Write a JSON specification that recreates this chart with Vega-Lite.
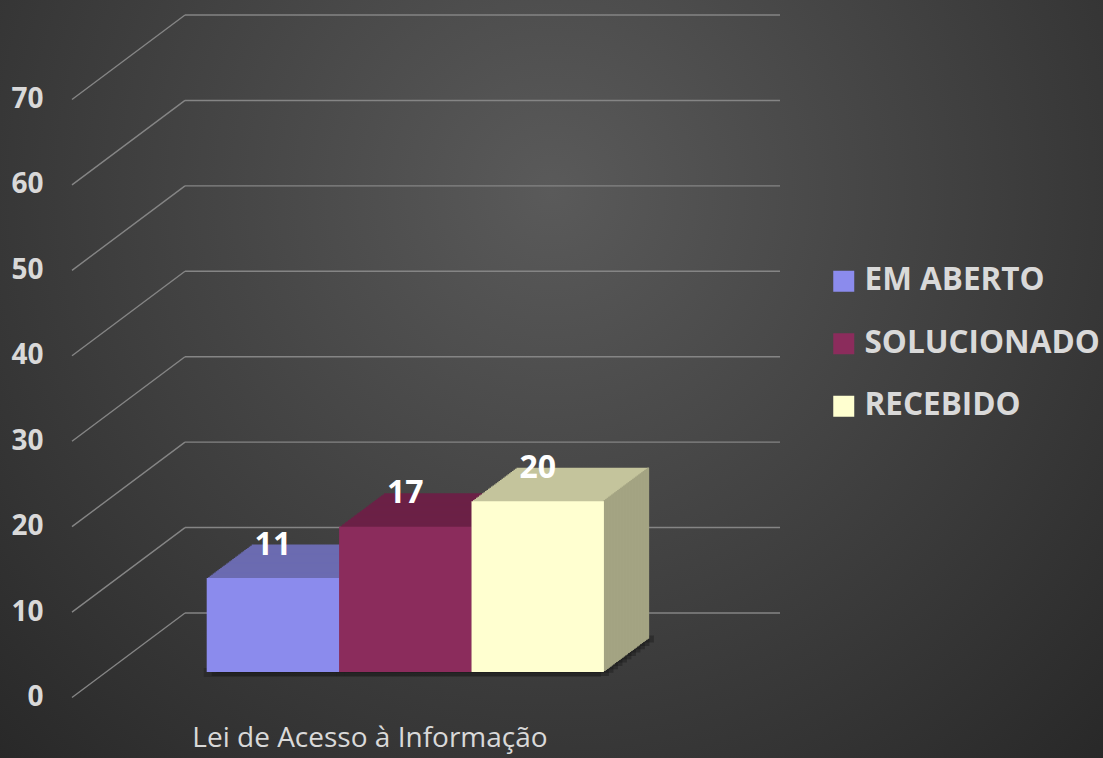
{
  "$schema": "https://vega.github.io/schema/vega-lite/v6.json",
  "width": 595,
  "height": 598,
  "autosize": {"type": "none"},
  "padding": {"left": 72, "top": 99.5, "right": 436, "bottom": 60.5},
  "background": "#3a3a3a",
  "config": {
    "view": {"stroke": null},
    "font": "Open Sans",
    "axis": {"zindex": 2},
    "legend": {"zindex": 2},
    "axisY": {"domain": false, "ticks": false, "grid": false, "labelFontSize": 28, "labelFontWeight": "bold", "labelColor": "#d9d9d9", "labelPadding": 29, "labelFont": "Open Sans", "zindex": 2}
  },
  "datasets": {
    "bars": [
      {"serie": "EM ABERTO", "v": 11},
      {"serie": "SOLUCIONADO", "v": 17},
      {"serie": "RECEBIDO", "v": 20}
    ],
    "grid": [{"v": 0}, {"v": 10}, {"v": 20}, {"v": 30}, {"v": 40}, {"v": 50}, {"v": 60}, {"v": 70}],
    "one": [{"k": 1}]
  },
  "layer": [
    {
      "layer": [
        {
          "data": {"name": "one"},
          "mark": {"type": "rect", "xOffset": -72, "x2Offset": 436, "yOffset": 60.5, "y2Offset": -99.5,
            "fill": {"gradient": "radial", "x1": 0.5, "y1": 0.33, "r1": 0, "x2": 0.5, "y2": 0.33, "r2": 0.75,
              "stops": [{"offset": 0, "color": "#5a5a5a"}, {"offset": 1, "color": "#262626"}]}},
          "encoding": {
            "x": {"datum": 0, "type": "quantitative", "scale": {"domain": [0, 1]}, "axis": null},
            "x2": {"datum": 1},
            "y": {"datum": 0, "type": "quantitative", "scale": {"domain": [0, 70], "nice": false}, "axis": {"title": null, "values": [0, 10, 20, 30, 40, 50, 60, 70], "zindex": 2}},
            "y2": {"datum": 70}
          }
        },
        {
          "data": {"name": "grid"},
          "mark": {"type": "rule", "xOffset": 113, "x2Offset": 113, "yOffset": -84.5, "color": "#858585", "strokeWidth": 1.4},
          "encoding": {
            "x": {"datum": 0, "type": "quantitative", "scale": {"domain": [0, 1]}, "axis": null},
            "x2": {"datum": 1},
            "y": {"field": "v", "type": "quantitative", "scale": {"domain": [0, 70], "nice": false}, "axis": {"title": null, "values": [0, 10, 20, 30, 40, 50, 60, 70], "zindex": 2}}
          }
        },
        {
          "data": {"name": "grid"},
          "mark": {"type": "rule", "x2Offset": 113, "y2Offset": -84.5, "color": "#858585", "strokeWidth": 1.4},
          "encoding": {
            "x": {"datum": 0, "type": "quantitative", "scale": {"domain": [0, 1]}, "axis": null},
            "x2": {"datum": 0},
            "y": {"field": "v", "type": "quantitative", "scale": {"domain": [0, 70], "nice": false}, "axis": {"title": null, "values": [0, 10, 20, 30, 40, 50, 60, 70], "zindex": 2}},
            "y2": {"field": "v"}
          }
        }
      ]
    },
    {
      "data": {"name": "bars"},
      "encoding": {
        "x": {"field": "serie", "type": "nominal", "sort": ["EM ABERTO", "SOLUCIONADO", "RECEBIDO"],
          "scale": {"type": "band", "paddingInner": 0, "paddingOuter": 0.747},
          "axis": {"title": "Lei de Acesso à Informação", "labels": false, "ticks": false, "domain": false, "titleFontSize": 28, "titleFontWeight": "normal", "titleColor": "#d9d9d9", "titlePadding": 27, "titleFont": "Open Sans", "zindex": 2}},
        "y": {"field": "v", "type": "quantitative", "scale": {"domain": [0, 70], "nice": false}, "axis": {"title": null, "values": [0, 10, 20, 30, 40, 50, 60, 70], "zindex": 2}}
      },
      "layer": [
        {
          "encoding": {"y": {"datum": 0, "type": "quantitative"}, "y2": {"datum": 0}},
          "layer": [
            {"mark": {"type": "bar", "color": "#111111", "opacity": 0.35, "xOffset": 85.8, "yOffset": -62, "y2Offset": -55}},
            {"mark": {"type": "bar", "color": "#111111", "opacity": 0.35, "xOffset": 81.3, "yOffset": -58.6, "y2Offset": -51.6}},
            {"mark": {"type": "bar", "color": "#111111", "opacity": 0.35, "xOffset": 76.8, "yOffset": -55.3, "y2Offset": -48.3}},
            {"mark": {"type": "bar", "color": "#111111", "opacity": 0.35, "xOffset": 72.3, "yOffset": -51.9, "y2Offset": -44.9}},
            {"mark": {"type": "bar", "color": "#111111", "opacity": 0.35, "xOffset": 67.8, "yOffset": -48.6, "y2Offset": -41.6}},
            {"mark": {"type": "bar", "color": "#111111", "opacity": 0.35, "xOffset": 63.3, "yOffset": -45.2, "y2Offset": -38.2}},
            {"mark": {"type": "bar", "color": "#111111", "opacity": 0.35, "xOffset": 58.8, "yOffset": -41.9, "y2Offset": -34.9}},
            {"mark": {"type": "bar", "color": "#111111", "opacity": 0.35, "xOffset": 54.3, "yOffset": -38.5, "y2Offset": -31.5}},
            {"mark": {"type": "bar", "color": "#111111", "opacity": 0.35, "xOffset": 49.8, "yOffset": -35.2, "y2Offset": -28.2}},
            {"mark": {"type": "bar", "color": "#111111", "opacity": 0.35, "xOffset": 45.3, "yOffset": -31.8, "y2Offset": -24.8}},
            {"mark": {"type": "bar", "color": "#111111", "opacity": 0.35, "xOffset": 40.8, "yOffset": -28.5, "y2Offset": -21.5}},
            {"mark": {"type": "bar", "color": "#111111", "opacity": 0.25, "xOffset": 32.8, "yOffset": -29.5, "y2Offset": -20.5}}
          ]
        },
        {
          "encoding": {"fill": {"field": "serie", "type": "nominal", "scale": {"domain": ["RECEBIDO", "SOLUCIONADO", "EM ABERTO"], "range": ["#c4c49c", "#6b2046", "#6b6bb1"]}, "legend": null}},
          "layer": [
            {"mark": {"type": "bar", "xOffset": 80.8, "yOffset": -59.0, "y2Offset": -59.0}},
            {"mark": {"type": "bar", "xOffset": 79.3, "yOffset": -57.88, "y2Offset": -57.88}},
            {"mark": {"type": "bar", "xOffset": 77.8, "yOffset": -56.77, "y2Offset": -56.77}},
            {"mark": {"type": "bar", "xOffset": 76.3, "yOffset": -55.65, "y2Offset": -55.65}},
            {"mark": {"type": "bar", "xOffset": 74.8, "yOffset": -54.53, "y2Offset": -54.53}},
            {"mark": {"type": "bar", "xOffset": 73.3, "yOffset": -53.42, "y2Offset": -53.42}},
            {"mark": {"type": "bar", "xOffset": 71.8, "yOffset": -52.3, "y2Offset": -52.3}},
            {"mark": {"type": "bar", "xOffset": 70.3, "yOffset": -51.18, "y2Offset": -51.18}},
            {"mark": {"type": "bar", "xOffset": 68.8, "yOffset": -50.07, "y2Offset": -50.07}},
            {"mark": {"type": "bar", "xOffset": 67.3, "yOffset": -48.95, "y2Offset": -48.95}},
            {"mark": {"type": "bar", "xOffset": 65.8, "yOffset": -47.83, "y2Offset": -47.83}},
            {"mark": {"type": "bar", "xOffset": 64.3, "yOffset": -46.72, "y2Offset": -46.72}},
            {"mark": {"type": "bar", "xOffset": 62.8, "yOffset": -45.6, "y2Offset": -45.6}},
            {"mark": {"type": "bar", "xOffset": 61.3, "yOffset": -44.48, "y2Offset": -44.48}},
            {"mark": {"type": "bar", "xOffset": 59.8, "yOffset": -43.37, "y2Offset": -43.37}},
            {"mark": {"type": "bar", "xOffset": 58.3, "yOffset": -42.25, "y2Offset": -42.25}},
            {"mark": {"type": "bar", "xOffset": 56.8, "yOffset": -41.13, "y2Offset": -41.13}},
            {"mark": {"type": "bar", "xOffset": 55.3, "yOffset": -40.02, "y2Offset": -40.02}},
            {"mark": {"type": "bar", "xOffset": 53.8, "yOffset": -38.9, "y2Offset": -38.9}},
            {"mark": {"type": "bar", "xOffset": 52.3, "yOffset": -37.78, "y2Offset": -37.78}},
            {"mark": {"type": "bar", "xOffset": 50.8, "yOffset": -36.67, "y2Offset": -36.67}},
            {"mark": {"type": "bar", "xOffset": 49.3, "yOffset": -35.55, "y2Offset": -35.55}},
            {"mark": {"type": "bar", "xOffset": 47.8, "yOffset": -34.43, "y2Offset": -34.43}},
            {"mark": {"type": "bar", "xOffset": 46.3, "yOffset": -33.32, "y2Offset": -33.32}},
            {"mark": {"type": "bar", "xOffset": 44.8, "yOffset": -32.2, "y2Offset": -32.2}},
            {"mark": {"type": "bar", "xOffset": 43.3, "yOffset": -31.08, "y2Offset": -31.08}},
            {"mark": {"type": "bar", "xOffset": 41.8, "yOffset": -29.97, "y2Offset": -29.97}},
            {"mark": {"type": "bar", "xOffset": 40.3, "yOffset": -28.85, "y2Offset": -28.85}},
            {"mark": {"type": "bar", "xOffset": 38.8, "yOffset": -27.73, "y2Offset": -27.73}},
            {"mark": {"type": "bar", "xOffset": 37.3, "yOffset": -26.62, "y2Offset": -26.62}}
          ]
        },
        {
          "transform": [{"filter": "datum.serie === 'RECEBIDO'"}],
          "layer": [
            {"mark": {"type": "bar", "width": 2, "xOffset": 146.25, "yOffset": -59.0, "y2Offset": -59.0, "color": "#a3a382"}},
            {"mark": {"type": "bar", "width": 2, "xOffset": 144.75, "yOffset": -57.88, "y2Offset": -57.88, "color": "#a3a382"}},
            {"mark": {"type": "bar", "width": 2, "xOffset": 143.25, "yOffset": -56.77, "y2Offset": -56.77, "color": "#a3a382"}},
            {"mark": {"type": "bar", "width": 2, "xOffset": 141.75, "yOffset": -55.65, "y2Offset": -55.65, "color": "#a3a382"}},
            {"mark": {"type": "bar", "width": 2, "xOffset": 140.25, "yOffset": -54.53, "y2Offset": -54.53, "color": "#a3a382"}},
            {"mark": {"type": "bar", "width": 2, "xOffset": 138.75, "yOffset": -53.42, "y2Offset": -53.42, "color": "#a3a382"}},
            {"mark": {"type": "bar", "width": 2, "xOffset": 137.25, "yOffset": -52.3, "y2Offset": -52.3, "color": "#a3a382"}},
            {"mark": {"type": "bar", "width": 2, "xOffset": 135.75, "yOffset": -51.18, "y2Offset": -51.18, "color": "#a3a382"}},
            {"mark": {"type": "bar", "width": 2, "xOffset": 134.25, "yOffset": -50.07, "y2Offset": -50.07, "color": "#a3a382"}},
            {"mark": {"type": "bar", "width": 2, "xOffset": 132.75, "yOffset": -48.95, "y2Offset": -48.95, "color": "#a3a382"}},
            {"mark": {"type": "bar", "width": 2, "xOffset": 131.25, "yOffset": -47.83, "y2Offset": -47.83, "color": "#a3a382"}},
            {"mark": {"type": "bar", "width": 2, "xOffset": 129.75, "yOffset": -46.72, "y2Offset": -46.72, "color": "#a3a382"}},
            {"mark": {"type": "bar", "width": 2, "xOffset": 128.25, "yOffset": -45.6, "y2Offset": -45.6, "color": "#a3a382"}},
            {"mark": {"type": "bar", "width": 2, "xOffset": 126.75, "yOffset": -44.48, "y2Offset": -44.48, "color": "#a3a382"}},
            {"mark": {"type": "bar", "width": 2, "xOffset": 125.25, "yOffset": -43.37, "y2Offset": -43.37, "color": "#a3a382"}},
            {"mark": {"type": "bar", "width": 2, "xOffset": 123.75, "yOffset": -42.25, "y2Offset": -42.25, "color": "#a3a382"}},
            {"mark": {"type": "bar", "width": 2, "xOffset": 122.25, "yOffset": -41.13, "y2Offset": -41.13, "color": "#a3a382"}},
            {"mark": {"type": "bar", "width": 2, "xOffset": 120.75, "yOffset": -40.02, "y2Offset": -40.02, "color": "#a3a382"}},
            {"mark": {"type": "bar", "width": 2, "xOffset": 119.25, "yOffset": -38.9, "y2Offset": -38.9, "color": "#a3a382"}},
            {"mark": {"type": "bar", "width": 2, "xOffset": 117.75, "yOffset": -37.78, "y2Offset": -37.78, "color": "#a3a382"}},
            {"mark": {"type": "bar", "width": 2, "xOffset": 116.25, "yOffset": -36.67, "y2Offset": -36.67, "color": "#a3a382"}},
            {"mark": {"type": "bar", "width": 2, "xOffset": 114.75, "yOffset": -35.55, "y2Offset": -35.55, "color": "#a3a382"}},
            {"mark": {"type": "bar", "width": 2, "xOffset": 113.25, "yOffset": -34.43, "y2Offset": -34.43, "color": "#a3a382"}},
            {"mark": {"type": "bar", "width": 2, "xOffset": 111.75, "yOffset": -33.32, "y2Offset": -33.32, "color": "#a3a382"}},
            {"mark": {"type": "bar", "width": 2, "xOffset": 110.25, "yOffset": -32.2, "y2Offset": -32.2, "color": "#a3a382"}},
            {"mark": {"type": "bar", "width": 2, "xOffset": 108.75, "yOffset": -31.08, "y2Offset": -31.08, "color": "#a3a382"}},
            {"mark": {"type": "bar", "width": 2, "xOffset": 107.25, "yOffset": -29.97, "y2Offset": -29.97, "color": "#a3a382"}},
            {"mark": {"type": "bar", "width": 2, "xOffset": 105.75, "yOffset": -28.85, "y2Offset": -28.85, "color": "#a3a382"}},
            {"mark": {"type": "bar", "width": 2, "xOffset": 104.25, "yOffset": -27.73, "y2Offset": -27.73, "color": "#a3a382"}},
            {"mark": {"type": "bar", "width": 2, "xOffset": 102.75, "yOffset": -26.62, "y2Offset": -26.62, "color": "#a3a382"}}
          ]
        },
        {
          "mark": {"type": "bar", "xOffset": 35.8, "yOffset": -25.5, "y2Offset": -25.5, "opacity": 1},
          "encoding": {
            "color": {"field": "serie", "type": "nominal",
              "scale": {"domain": ["EM ABERTO", "SOLUCIONADO", "RECEBIDO"], "range": ["#8b8bed", "#8b2c5c", "#ffffd0"]},
              "legend": {"title": null, "orient": "none", "legendX": 756, "legendY": 166, "symbolType": "square", "symbolSize": 441, "symbolStrokeWidth": 0, "symbolOpacity": 1, "labelFontSize": 31.5, "labelFontWeight": "bold", "labelColor": "#d9d9d9", "labelFont": "Open Sans", "rowPadding": 29.5, "labelOffset": 5, "labelLimit": 400, "zindex": 2}}
          }
        },
        {
          "mark": {"type": "text", "dx": 35.8, "dy": -59, "baseline": "middle", "align": "center", "fontSize": 32, "fontWeight": "bold", "font": "Open Sans", "color": "#ffffff"},
          "encoding": {"text": {"field": "v", "type": "quantitative"}}
        }
      ]
    }
  ],
  "resolve": {"scale": {"x": "independent"}, "axis": {"x": "independent"}}
}
